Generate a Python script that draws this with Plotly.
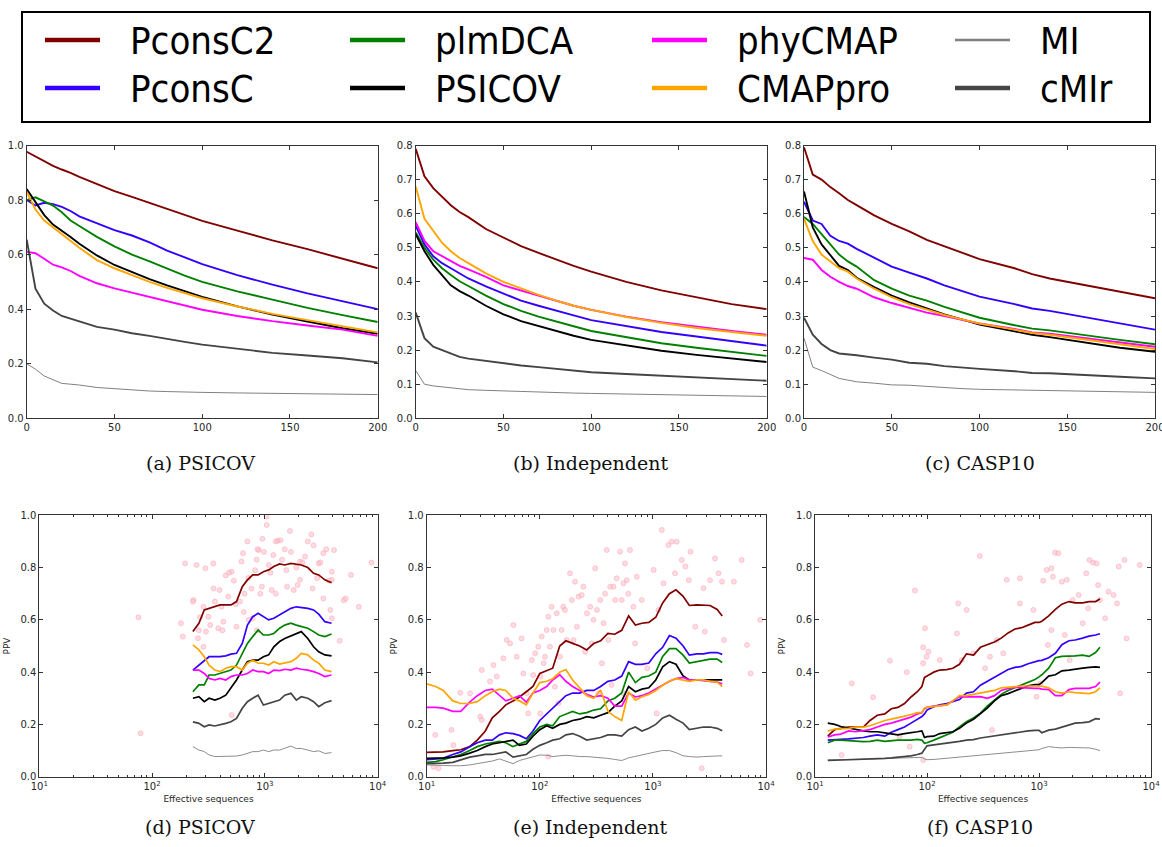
import plotly.graph_objects as go

W, H = 1162, 847

METHODS = ["PconsC2", "PconsC", "plmDCA", "PSICOV", "phyCMAP", "CMAPpro", "MI", "cMIr"]
COLORS = {"PconsC2": "#800000", "PconsC": "#3300ff", "plmDCA": "#008000", "PSICOV": "#000000",
          "phyCMAP": "#ff00ff", "CMAPpro": "#ffa500", "MI": "#808080", "cMIr": "#444444"}
WIDTHS = {"PconsC2": 1.9, "PconsC": 1.9, "plmDCA": 1.9, "PSICOV": 1.9,
          "phyCMAP": 1.9, "CMAPpro": 1.9, "MI": 1.0, "cMIr": 1.9}

# ---------------- top row: PPV vs number of predicted contacts ----------------
top_x = [0, 5, 10, 15, 20, 25, 30, 40, 50, 60, 70, 80, 90, 100, 120, 140, 160, 180, 200]
c_x = [0, 5, 10, 15, 20, 25, 30, 40, 50, 60, 70, 80, 90, 100, 120, 130, 140, 160, 180, 200]

a_PconsC2 = [0.977, 0.96, 0.943, 0.925, 0.912, 0.9, 0.885, 0.858, 0.833, 0.812, 0.79, 0.768, 0.745, 0.724, 0.688, 0.652, 0.62, 0.585, 0.55]
a_PconsC = [0.80, 0.78, 0.79, 0.785, 0.775, 0.76, 0.74, 0.715, 0.69, 0.67, 0.645, 0.615, 0.59, 0.565, 0.525, 0.49, 0.458, 0.428, 0.40]
a_plmDCA = [0.80, 0.81, 0.795, 0.78, 0.755, 0.725, 0.705, 0.665, 0.63, 0.60, 0.575, 0.548, 0.523, 0.5, 0.465, 0.435, 0.405, 0.378, 0.353]
a_PSICOV = [0.84, 0.79, 0.745, 0.71, 0.688, 0.665, 0.64, 0.597, 0.562, 0.535, 0.51, 0.487, 0.466, 0.445, 0.41, 0.38, 0.355, 0.33, 0.31]
a_phyCMAP = [0.61, 0.605, 0.585, 0.563, 0.553, 0.54, 0.522, 0.495, 0.476, 0.46, 0.445, 0.43, 0.412, 0.398, 0.375, 0.356, 0.34, 0.325, 0.302]
a_CMAPpro = [0.83, 0.765, 0.725, 0.70, 0.675, 0.647, 0.625, 0.58, 0.55, 0.525, 0.5, 0.478, 0.458, 0.44, 0.41, 0.383, 0.36, 0.337, 0.315]
a_MI = [0.20, 0.18, 0.155, 0.14, 0.128, 0.125, 0.122, 0.113, 0.108, 0.104, 0.1, 0.098, 0.096, 0.095, 0.093, 0.092, 0.09, 0.088, 0.087]
a_cMIr = [0.655, 0.475, 0.42, 0.395, 0.375, 0.365, 0.355, 0.335, 0.325, 0.312, 0.302, 0.29, 0.28, 0.27, 0.255, 0.24, 0.23, 0.22, 0.205]

b_PconsC2 = [0.79, 0.71, 0.675, 0.65, 0.625, 0.605, 0.59, 0.555, 0.53, 0.505, 0.485, 0.465, 0.447, 0.43, 0.40, 0.375, 0.355, 0.335, 0.32]
b_PconsC = [0.565, 0.51, 0.475, 0.455, 0.44, 0.425, 0.41, 0.387, 0.365, 0.345, 0.33, 0.315, 0.302, 0.288, 0.27, 0.253, 0.24, 0.226, 0.213]
b_plmDCA = [0.545, 0.5, 0.465, 0.44, 0.42, 0.402, 0.388, 0.36, 0.335, 0.315, 0.298, 0.283, 0.27, 0.256, 0.237, 0.22, 0.207, 0.195, 0.183]
b_PSICOV = [0.54, 0.49, 0.45, 0.42, 0.39, 0.373, 0.36, 0.33, 0.305, 0.285, 0.27, 0.255, 0.242, 0.23, 0.213, 0.198, 0.186, 0.175, 0.165]
b_phyCMAP = [0.575, 0.52, 0.49, 0.475, 0.46, 0.447, 0.437, 0.415, 0.39, 0.375, 0.358, 0.343, 0.33, 0.318, 0.298, 0.282, 0.268, 0.256, 0.245]
b_CMAPpro = [0.68, 0.585, 0.55, 0.515, 0.49, 0.47, 0.455, 0.425, 0.40, 0.38, 0.362, 0.345, 0.33, 0.318, 0.297, 0.28, 0.265, 0.253, 0.242]
b_MI = [0.14, 0.1, 0.095, 0.092, 0.088, 0.085, 0.084, 0.082, 0.08, 0.078, 0.077, 0.075, 0.074, 0.073, 0.071, 0.069, 0.068, 0.066, 0.064]
b_cMIr = [0.31, 0.235, 0.21, 0.2, 0.188, 0.18, 0.175, 0.168, 0.162, 0.155, 0.15, 0.145, 0.14, 0.135, 0.13, 0.125, 0.12, 0.115, 0.11]

c_PconsC2 = [0.795, 0.715, 0.70, 0.678, 0.66, 0.64, 0.625, 0.595, 0.57, 0.548, 0.523, 0.505, 0.485, 0.467, 0.44, 0.423, 0.41, 0.39, 0.37, 0.352]
c_PconsC = [0.635, 0.58, 0.57, 0.535, 0.52, 0.512, 0.497, 0.47, 0.445, 0.427, 0.41, 0.39, 0.373, 0.357, 0.335, 0.322, 0.315, 0.297, 0.278, 0.26]
c_plmDCA = [0.59, 0.57, 0.54, 0.51, 0.48, 0.46, 0.445, 0.405, 0.38, 0.36, 0.345, 0.327, 0.31, 0.295, 0.273, 0.263, 0.258, 0.243, 0.23, 0.217]
c_PSICOV = [0.665, 0.56, 0.51, 0.48, 0.447, 0.435, 0.412, 0.385, 0.36, 0.34, 0.322, 0.305, 0.29, 0.275, 0.255, 0.245, 0.238, 0.222, 0.207, 0.195]
c_phyCMAP = [0.47, 0.465, 0.435, 0.415, 0.40, 0.388, 0.38, 0.355, 0.338, 0.325, 0.31, 0.30, 0.288, 0.278, 0.262, 0.252, 0.248, 0.235, 0.222, 0.21]
c_CMAPpro = [0.585, 0.52, 0.48, 0.46, 0.44, 0.43, 0.41, 0.38, 0.355, 0.335, 0.318, 0.303, 0.29, 0.278, 0.26, 0.25, 0.245, 0.23, 0.217, 0.203]
c_MI = [0.235, 0.15, 0.14, 0.128, 0.117, 0.112, 0.107, 0.103, 0.098, 0.097, 0.093, 0.09, 0.087, 0.085, 0.083, 0.082, 0.082, 0.08, 0.078, 0.076]
c_cMIr = [0.295, 0.245, 0.218, 0.2, 0.19, 0.188, 0.185, 0.178, 0.172, 0.163, 0.16, 0.153, 0.148, 0.145, 0.138, 0.133, 0.132, 0.128, 0.122, 0.117]

# ---------------- bottom row: PPV vs effective sequences ----------------
d_x = [230, 260, 290, 320, 360, 400, 450, 500, 560, 630, 700, 780, 870, 970, 1080, 1200, 1350, 1500, 1700, 1900, 2100, 2400, 2700, 3000, 3400, 3900]
d_PconsC2 = [0.555, 0.587, 0.638, 0.644, 0.65, 0.657, 0.657, 0.657, 0.67, 0.727, 0.753, 0.772, 0.772, 0.784, 0.791, 0.804, 0.814, 0.81, 0.816, 0.814, 0.81, 0.80, 0.778, 0.772, 0.753, 0.742]
d_PconsC = [0.408, 0.427, 0.446, 0.459, 0.459, 0.459, 0.462, 0.469, 0.472, 0.51, 0.58, 0.612, 0.625, 0.612, 0.60, 0.606, 0.619, 0.631, 0.644, 0.65, 0.648, 0.644, 0.638, 0.622, 0.593, 0.587]
d_plmDCA = [0.325, 0.351, 0.351, 0.389, 0.389, 0.395, 0.402, 0.408, 0.427, 0.472, 0.51, 0.536, 0.561, 0.542, 0.542, 0.548, 0.568, 0.58, 0.587, 0.58, 0.574, 0.568, 0.555, 0.542, 0.536, 0.546]
d_PSICOV = [0.30, 0.306, 0.287, 0.30, 0.293, 0.30, 0.312, 0.338, 0.37, 0.408, 0.44, 0.446, 0.446, 0.459, 0.466, 0.497, 0.517, 0.529, 0.538, 0.548, 0.555, 0.529, 0.497, 0.478, 0.466, 0.462]
d_phyCMAP = [0.408, 0.408, 0.395, 0.376, 0.37, 0.376, 0.37, 0.383, 0.389, 0.389, 0.395, 0.408, 0.402, 0.402, 0.395, 0.408, 0.406, 0.411, 0.408, 0.415, 0.411, 0.408, 0.402, 0.395, 0.383, 0.389]
d_CMAPpro = [0.504, 0.485, 0.459, 0.427, 0.408, 0.402, 0.415, 0.421, 0.421, 0.408, 0.434, 0.446, 0.434, 0.434, 0.427, 0.44, 0.431, 0.434, 0.44, 0.453, 0.472, 0.466, 0.446, 0.434, 0.408, 0.402]
d_MI = [0.115, 0.102, 0.096, 0.083, 0.077, 0.077, 0.077, 0.077, 0.079, 0.083, 0.089, 0.096, 0.096, 0.102, 0.096, 0.102, 0.102, 0.108, 0.117, 0.108, 0.108, 0.102, 0.096, 0.099, 0.089, 0.092]
d_cMIr = [0.21, 0.204, 0.191, 0.198, 0.194, 0.198, 0.204, 0.21, 0.223, 0.262, 0.287, 0.30, 0.312, 0.274, 0.281, 0.287, 0.293, 0.312, 0.319, 0.293, 0.306, 0.30, 0.287, 0.268, 0.283, 0.291]

e_x = [10, 12, 14, 17, 20, 24, 28, 33, 38, 44, 50, 58, 66, 76, 87, 100, 115, 130, 150, 170, 195, 225, 260, 300, 345, 400, 460, 530, 610, 700, 800, 920, 1060, 1220, 1400, 1600, 1850, 2100, 2450, 2800, 3200, 3700, 4100]
e_PconsC2 = [0.093, 0.095, 0.095, 0.10, 0.103, 0.115, 0.14, 0.175, 0.225, 0.25, 0.275, 0.29, 0.305, 0.325, 0.345, 0.395, 0.405, 0.415, 0.50, 0.52, 0.51, 0.50, 0.485, 0.51, 0.52, 0.548, 0.545, 0.56, 0.615, 0.58, 0.587, 0.59, 0.61, 0.665, 0.70, 0.715, 0.69, 0.655, 0.657, 0.655, 0.655, 0.64, 0.615]
e_PconsC = [0.065, 0.068, 0.07, 0.085, 0.095, 0.115, 0.13, 0.14, 0.14, 0.16, 0.168, 0.165, 0.158, 0.145, 0.175, 0.215, 0.24, 0.265, 0.29, 0.31, 0.32, 0.32, 0.33, 0.33, 0.345, 0.365, 0.37, 0.385, 0.44, 0.43, 0.43, 0.435, 0.47, 0.495, 0.54, 0.53, 0.50, 0.465, 0.47, 0.47, 0.475, 0.475, 0.468]
e_plmDCA = [0.055, 0.058, 0.065, 0.075, 0.085, 0.1, 0.115, 0.125, 0.13, 0.135, 0.13, 0.115, 0.125, 0.135, 0.165, 0.19, 0.2, 0.195, 0.23, 0.24, 0.25, 0.24, 0.245, 0.255, 0.26, 0.29, 0.3, 0.32, 0.40, 0.36, 0.38, 0.385, 0.40, 0.46, 0.49, 0.49, 0.465, 0.435, 0.44, 0.445, 0.45, 0.45, 0.437]
e_PSICOV = [0.07, 0.07, 0.072, 0.075, 0.08, 0.09, 0.10, 0.115, 0.125, 0.13, 0.135, 0.14, 0.12, 0.125, 0.155, 0.18, 0.195, 0.185, 0.20, 0.205, 0.215, 0.22, 0.23, 0.225, 0.235, 0.245, 0.27, 0.29, 0.345, 0.325, 0.335, 0.34, 0.37, 0.42, 0.44, 0.43, 0.385, 0.37, 0.37, 0.37, 0.372, 0.372, 0.37]
e_phyCMAP = [0.265, 0.265, 0.262, 0.25, 0.25, 0.285, 0.31, 0.33, 0.335, 0.31, 0.29, 0.30, 0.31, 0.285, 0.32, 0.33, 0.345, 0.37, 0.39, 0.365, 0.345, 0.33, 0.315, 0.305, 0.31, 0.30, 0.27, 0.27, 0.32, 0.305, 0.31, 0.32, 0.335, 0.35, 0.365, 0.375, 0.38, 0.37, 0.37, 0.367, 0.365, 0.362, 0.355]
e_CMAPpro = [0.355, 0.345, 0.33, 0.29, 0.28, 0.28, 0.287, 0.31, 0.325, 0.335, 0.33, 0.30, 0.29, 0.275, 0.32, 0.36, 0.365, 0.375, 0.40, 0.41, 0.37, 0.34, 0.31, 0.30, 0.332, 0.25, 0.23, 0.215, 0.325, 0.293, 0.306, 0.315, 0.33, 0.35, 0.365, 0.375, 0.37, 0.365, 0.37, 0.37, 0.365, 0.362, 0.345]
e_MI = [0.045, 0.045, 0.043, 0.042, 0.042, 0.045, 0.05, 0.057, 0.06, 0.068, 0.06, 0.05, 0.062, 0.07, 0.078, 0.083, 0.082, 0.077, 0.08, 0.082, 0.08, 0.077, 0.077, 0.075, 0.072, 0.07, 0.066, 0.062, 0.072, 0.078, 0.085, 0.09, 0.095, 0.1, 0.1, 0.092, 0.08, 0.077, 0.075, 0.077, 0.079, 0.08, 0.08]
e_cMIr = [0.05, 0.05, 0.052, 0.055, 0.065, 0.075, 0.08, 0.085, 0.085, 0.09, 0.095, 0.075, 0.08, 0.085, 0.105, 0.12, 0.13, 0.14, 0.145, 0.16, 0.165, 0.155, 0.14, 0.145, 0.15, 0.16, 0.16, 0.155, 0.18, 0.19, 0.175, 0.185, 0.2, 0.225, 0.235, 0.22, 0.205, 0.18, 0.185, 0.19, 0.19, 0.185, 0.176]

f_x = [13, 15, 17, 20, 23, 27, 31, 36, 42, 48, 55, 63, 72, 82, 90, 95, 100, 115, 130, 150, 170, 195, 225, 260, 300, 345, 400, 460, 530, 610, 700, 800, 920, 1000, 1060, 1220, 1400, 1600, 1850, 2100, 2450, 2800, 3200, 3500]
f_PconsC2 = [0.155, 0.18, 0.185, 0.19, 0.19, 0.19, 0.215, 0.235, 0.24, 0.26, 0.265, 0.28, 0.305, 0.325, 0.345, 0.38, 0.385, 0.40, 0.408, 0.41, 0.415, 0.43, 0.47, 0.465, 0.495, 0.504, 0.515, 0.53, 0.55, 0.565, 0.57, 0.58, 0.59, 0.59, 0.595, 0.615, 0.64, 0.66, 0.67, 0.665, 0.665, 0.67, 0.67, 0.68]
f_PconsC = [0.14, 0.143, 0.143, 0.145, 0.147, 0.15, 0.155, 0.16, 0.155, 0.17, 0.18, 0.19, 0.205, 0.22, 0.23, 0.24, 0.255, 0.268, 0.275, 0.28, 0.287, 0.295, 0.32, 0.325, 0.35, 0.365, 0.38, 0.395, 0.41, 0.418, 0.422, 0.432, 0.44, 0.444, 0.445, 0.455, 0.472, 0.505, 0.52, 0.523, 0.53, 0.538, 0.542, 0.547]
f_plmDCA = [0.13, 0.14, 0.14, 0.137, 0.135, 0.134, 0.135, 0.14, 0.135, 0.138, 0.14, 0.14, 0.14, 0.143, 0.14, 0.128, 0.13, 0.14, 0.15, 0.16, 0.17, 0.19, 0.21, 0.225, 0.243, 0.27, 0.295, 0.315, 0.33, 0.34, 0.352, 0.362, 0.372, 0.382, 0.39, 0.415, 0.455, 0.46, 0.46, 0.462, 0.465, 0.46, 0.475, 0.495]
f_PSICOV = [0.205, 0.2, 0.192, 0.185, 0.18, 0.175, 0.172, 0.172, 0.168, 0.165, 0.16, 0.165, 0.17, 0.172, 0.175, 0.15, 0.153, 0.155, 0.165, 0.168, 0.172, 0.185, 0.205, 0.22, 0.24, 0.262, 0.29, 0.31, 0.318, 0.328, 0.338, 0.348, 0.352, 0.352, 0.36, 0.385, 0.39, 0.405, 0.408, 0.41, 0.415, 0.418, 0.42, 0.418]
f_phyCMAP = [0.152, 0.16, 0.163, 0.175, 0.172, 0.175, 0.18, 0.19, 0.2, 0.205, 0.212, 0.22, 0.228, 0.24, 0.245, 0.26, 0.265, 0.27, 0.272, 0.275, 0.29, 0.306, 0.305, 0.305, 0.306, 0.30, 0.31, 0.33, 0.338, 0.342, 0.34, 0.338, 0.338, 0.338, 0.335, 0.333, 0.31, 0.31, 0.333, 0.338, 0.338, 0.338, 0.345, 0.362]
f_CMAPpro = [0.175, 0.182, 0.183, 0.185, 0.19, 0.19, 0.195, 0.205, 0.215, 0.22, 0.225, 0.232, 0.238, 0.245, 0.245, 0.262, 0.265, 0.268, 0.27, 0.275, 0.29, 0.31, 0.31, 0.315, 0.321, 0.325, 0.33, 0.34, 0.343, 0.345, 0.347, 0.347, 0.347, 0.347, 0.346, 0.34, 0.325, 0.32, 0.325, 0.322, 0.32, 0.318, 0.325, 0.34]
f_MI = [0.065, 0.066, 0.065, 0.066, 0.066, 0.067, 0.068, 0.068, 0.07, 0.07, 0.072, 0.072, 0.073, 0.074, 0.074, 0.068, 0.065, 0.066, 0.068, 0.07, 0.072, 0.075, 0.078, 0.08, 0.082, 0.084, 0.086, 0.088, 0.09, 0.092, 0.095, 0.098, 0.1, 0.103, 0.108, 0.115, 0.112, 0.11, 0.112, 0.112, 0.112, 0.11, 0.105, 0.1]
f_cMIr = [0.062, 0.063, 0.062, 0.063, 0.064, 0.065, 0.066, 0.068, 0.07, 0.072, 0.074, 0.076, 0.08, 0.085, 0.09, 0.105, 0.118, 0.122, 0.125, 0.128, 0.13, 0.135, 0.14, 0.142, 0.148, 0.152, 0.158, 0.162, 0.166, 0.17, 0.174, 0.175, 0.177, 0.177, 0.168, 0.178, 0.182, 0.19, 0.2, 0.205, 0.207, 0.21, 0.222, 0.22]

# per-target PconsC2 scores (pink dots)
d_pts_x = [75.6, 79, 196, 180, 187, 1037, 1037, 1668, 2580, 1380, 1300, 880, 620, 349, 248, 297, 507, 1083, 2047, 2270,
           3000, 3296, 4100, 3920, 3920, 8800, 5800, 5200, 6800, 5000, 3800, 4600, 3920, 3300, 2047, 1950, 1800, 1570, 940, 1150,
           910, 660, 601, 473, 412, 397, 360, 233, 285, 316, 327, 428, 386, 560, 780, 507, 1188, 845, 712, 285,
           260, 300, 350, 450, 480, 530, 550, 640, 700, 760, 820, 860, 950, 980, 1120, 1250, 1420, 1500, 1550, 1700,
           1900, 2150, 2400, 2700, 2900, 3100, 3500, 3700, 2650, 1250, 650, 720, 850, 420, 255, 265, 230]
d_pts_y = [0.61, 0.166, 0.816, 0.587, 0.536, 0.995, 0.963, 0.94, 0.927, 0.905, 0.903, 0.867, 0.823, 0.816, 0.81, 0.797, 0.784, 0.81, 0.823, 0.842,
           0.816, 0.855, 0.867, 0.784, 0.753, 0.819, 0.772, 0.682, 0.65, 0.675, 0.638, 0.52, 0.606, 0.682, 0.753, 0.733, 0.714, 0.727, 0.727, 0.714,
           0.70, 0.70, 0.67, 0.689, 0.65, 0.714, 0.67, 0.676, 0.65, 0.612, 0.58, 0.593, 0.568, 0.574, 0.606, 0.236, 0.848, 0.83, 0.76, 0.497,
           0.56, 0.555, 0.72, 0.77, 0.78, 0.75, 0.66, 0.855, 0.9, 0.72, 0.79, 0.87, 0.91, 0.86, 0.78, 0.9, 0.83, 0.87, 0.79, 0.86,
           0.8, 0.82, 0.9, 0.885, 0.76, 0.82, 0.87, 0.75, 0.72, 0.7, 0.63, 0.6, 0.56, 0.56, 0.53, 0.61, 0.67]

e_pts_x = [11.9, 11.5, 12.7, 17.2, 16.6, 19.8, 24.2, 29.7, 30.7, 30.7, 36.3, 38.9, 41.6, 47.6, 51, 54.6, 58.5, 62.5, 69, 71.6,
           76.7, 79, 85, 87.5, 91, 97, 101, 104, 108, 111, 115, 119, 123, 127, 132, 136, 141, 146, 151, 156,
           161, 167, 173, 185, 192, 199, 205, 213, 220, 235, 243, 252, 261, 279, 288, 299, 309, 320, 330, 342,
           354, 366, 378, 391, 404, 419, 432, 448, 463, 478, 513, 530, 549, 567, 587, 606, 627, 672, 696, 720,
           797, 1015, 1120, 1199, 1240, 1370, 1463, 1620, 1570, 1800, 1940, 2150, 2080, 2370, 2800, 2880, 3200, 3540, 3800, 4080,
           4250, 5200, 6100, 6800, 7300, 8900, 1080, 890, 2700, 119, 549, 101]
e_pts_y = [0.16, 0.038, 0.032, 0.121, 0.179, 0.321, 0.319, 0.23, 0.217, 0.408, 0.364, 0.427, 0.383, 0.453, 0.523, 0.51, 0.58, 0.459, 0.529, 0.395,
           0.319, 0.242, 0.446, 0.389, 0.472, 0.497, 0.383, 0.536, 0.434, 0.459, 0.561, 0.612, 0.497, 0.65, 0.561, 0.344, 0.625, 0.281, 0.459, 0.561,
           0.65, 0.638, 0.523, 0.778, 0.676, 0.523, 0.746, 0.574, 0.689, 0.695, 0.727, 0.478, 0.625, 0.65, 0.51, 0.60, 0.797, 0.638, 0.319, 0.676,
           0.434, 0.587, 0.70, 0.867, 0.523, 0.727, 0.351, 0.727, 0.676, 0.759, 0.861, 0.676, 0.74, 0.816, 0.752, 0.70, 0.867, 0.65, 0.51, 0.765,
           0.676, 0.791, 0.638, 0.944, 0.74, 0.886, 0.899, 0.899, 0.778, 0.829, 0.804, 0.861, 0.752, 0.574, 0.721, 0.555, 0.752, 0.835, 0.778, 0.746,
           0.523, 0.746, 0.829, 0.504, 0.395, 0.60, 0.242, 0.415, 0.032, 0.077, 0.319, 0.242]

f_pts_x = [17.3, 21.3, 33, 46.7, 66, 78, 70, 57, 92.5, 96, 99, 103, 92.5, 92.5, 130, 190, 185, 226, 204, 260,
           296, 330, 365, 380, 420, 480, 515, 675, 675, 950, 1090, 1170, 1290, 1330, 1390, 1490, 1600, 1770, 1880, 1700,
           2000, 2260, 2460, 2640, 2750, 2830, 3040, 3270, 3370, 3500, 3890, 4170, 4640, 4980, 5150, 5300, 5800, 6050, 7950, 1030,
           1290, 1200, 890]
f_pts_y = [0.083, 0.357, 0.304, 0.444, 0.40, 0.712, 0.115, 0.153, 0.495, 0.568, 0.459, 0.478, 0.434, 0.064, 0.446, 0.663, 0.548, 0.638, 0.446, 0.472,
           0.844, 0.415, 0.459, 0.179, 0.523, 0.472, 0.753, 0.759, 0.663, 0.306, 0.75, 0.791, 0.797, 0.765, 0.857, 0.855, 0.746, 0.753, 0.446, 0.542,
           0.676, 0.695, 0.587, 0.778, 0.644, 0.829, 0.819, 0.816, 0.733, 0.676, 0.606, 0.708, 0.695, 0.663, 0.804, 0.319, 0.829, 0.529, 0.81, 0.357,
           0.561, 0.504, 0.638]

CAPTIONS = ["(a) PSICOV", "(b) Independent", "(c) CASP10", "(d) PSICOV", "(e) Independent", "(f) CASP10"]
TOP_XTICKS = [0, 50, 100, 150, 200]
LOG_TICKS = [10, 100, 1000, 10000]
LOG_TICKTEXT = ["10<sup>1</sup>", "10<sup>2</sup>", "10<sup>3</sup>", "10<sup>4</sup>"]
LEGEND_ROWS = [["PconsC2", "plmDCA", "phyCMAP", "MI"], ["PconsC", "PSICOV", "CMAPpro", "cMIr"]]

top_series = [
    ("", top_x, {"PconsC2": a_PconsC2, "PconsC": a_PconsC, "plmDCA": a_plmDCA, "PSICOV": a_PSICOV,
                 "phyCMAP": a_phyCMAP, "CMAPpro": a_CMAPpro, "MI": a_MI, "cMIr": a_cMIr}),
    ("2", top_x, {"PconsC2": b_PconsC2, "PconsC": b_PconsC, "plmDCA": b_plmDCA, "PSICOV": b_PSICOV,
                  "phyCMAP": b_phyCMAP, "CMAPpro": b_CMAPpro, "MI": b_MI, "cMIr": b_cMIr}),
    ("3", c_x, {"PconsC2": c_PconsC2, "PconsC": c_PconsC, "plmDCA": c_plmDCA, "PSICOV": c_PSICOV,
                "phyCMAP": c_phyCMAP, "CMAPpro": c_CMAPpro, "MI": c_MI, "cMIr": c_cMIr}),
]
bottom_series = [
    ("4", d_x, {"PconsC2": d_PconsC2, "PconsC": d_PconsC, "plmDCA": d_plmDCA, "PSICOV": d_PSICOV,
                "phyCMAP": d_phyCMAP, "CMAPpro": d_CMAPpro, "MI": d_MI, "cMIr": d_cMIr}, d_pts_x, d_pts_y),
    ("5", e_x, {"PconsC2": e_PconsC2, "PconsC": e_PconsC, "plmDCA": e_plmDCA, "PSICOV": e_PSICOV,
                "phyCMAP": e_phyCMAP, "CMAPpro": e_CMAPpro, "MI": e_MI, "cMIr": e_cMIr}, e_pts_x, e_pts_y),
    ("6", f_x, {"PconsC2": f_PconsC2, "PconsC": f_PconsC, "plmDCA": f_plmDCA, "PSICOV": f_PSICOV,
                "phyCMAP": f_phyCMAP, "CMAPpro": f_CMAPpro, "MI": f_MI, "cMIr": f_cMIr}, f_pts_x, f_pts_y),
]

fig = go.Figure()

for suf, xs, series in top_series:
    for m in METHODS:
        fig.add_trace(go.Scatter(x=xs, y=series[m], mode="lines", name=m, showlegend=False,
                                 line=dict(color=COLORS[m], width=WIDTHS[m]),
                                 xaxis="x" + suf, yaxis="y" + suf))

for suf, xs, series, px_, py_ in bottom_series:
    fig.add_trace(go.Scatter(x=px_, y=py_, mode="markers", name="PconsC2 per target", showlegend=False,
                             marker=dict(size=5, color="rgba(255,192,203,0.55)",
                                         line=dict(color="rgba(250,150,170,0.55)", width=0.8)),
                             xaxis="x" + suf, yaxis="y" + suf))
    for m in METHODS:
        fig.add_trace(go.Scatter(x=xs, y=series[m], mode="lines", name=m, showlegend=False,
                                 line=dict(color=COLORS[m], width=WIDTHS[m] * 0.9),
                                 xaxis="x" + suf, yaxis="y" + suf))

# pixel geometry of the six axes boxes (left, right, top, bottom)
BOXES = [(26.7, 377.7, 145.5, 418.3), (415.7, 766.7, 145.5, 418.3), (804.0, 1155.0, 145.5, 418.3),
         (39.3, 377.7, 515.3, 776.7), (426.7, 766.0, 515.3, 776.7), (815.0, 1151.0, 515.3, 776.7)]

tick_font = dict(family="DejaVu Sans, Verdana, sans-serif", size=10, color="#262626")
frame = dict(showline=True, linecolor="#333333", linewidth=1, mirror="ticks", ticks="inside",
             ticklen=4, tickcolor="#333333", showgrid=False, zeroline=False, tickfont=tick_font,
             automargin=False)

layout = dict(width=W, height=H, margin=dict(l=0, r=0, t=0, b=0, pad=0, autoexpand=False),
              plot_bgcolor="white", paper_bgcolor="white", showlegend=False)

minor_vals = [m * 10 ** k for k in (1, 2, 3) for m in range(2, 10)]

for i, (l, r, t, b) in enumerate(BOXES):
    n = "" if i == 0 else str(i + 1)
    xd = [l / W, r / W]
    yd = [1 - b / H, 1 - t / H]
    if i < 3:
        xa = dict(frame, domain=xd, anchor="y" + n, range=[0, 200], tickvals=TOP_XTICKS,
                  ticklabeloverflow="allow")
        if i == 0:
            ya = dict(frame, domain=yd, anchor="x" + n, range=[0, 1.0], dtick=0.2, tickformat=".1f")
        else:
            ya = dict(frame, domain=yd, anchor="x" + n, range=[0, 0.8], dtick=0.1, tickformat=".1f")
    else:
        xa = dict(frame, domain=xd, anchor="y" + n, type="log", range=[1, 4],
                  tickvals=LOG_TICKS, ticktext=LOG_TICKTEXT, ticklabeloverflow="allow",
                  minor=dict(tickvals=minor_vals, ticks="inside", ticklen=2, tickcolor="#333333"),
                  title=dict(text="Effective sequences", standoff=4,
                             font=dict(family="DejaVu Sans, Verdana, sans-serif", size=9, color="#262626")))
        ya = dict(frame, domain=yd, anchor="x" + n, range=[0, 1.0], dtick=0.2, tickformat=".1f",
                  title=dict(text="PPV", standoff=8,
                             font=dict(family="DejaVu Sans, Verdana, sans-serif", size=9, color="#262626")))
    layout["xaxis" + n] = xa
    layout["yaxis" + n] = ya

fig.update_layout(**layout)

# panel captions
cap_y = [463, 463, 463, 827, 827, 827]
cap_x = [200, 590, 980, 200, 590, 980]
for txt, cx, cy in zip(CAPTIONS, cap_x, cap_y):
    fig.add_annotation(text=txt, x=cx / W, y=1 - cy / H, xref="paper", yref="paper",
                       showarrow=False, xanchor="center", yanchor="middle",
                       font=dict(family="DejaVu Serif, Liberation Serif, serif", size=19, color="#111111"))

# legend box
fig.add_shape(type="rect", xref="paper", yref="paper", x0=22 / W, x1=1150 / W,
              y0=1 - 122 / H, y1=1 - 12 / H, line=dict(color="black", width=2), fillcolor="white")
col_line_x = [45, 350, 652, 955]
col_text_x = [128, 433, 735, 1038]
row_y = [40, 88]
for ri, row in enumerate(LEGEND_ROWS):
    for ci, m in enumerate(row):
        lw = 2.5 if m == "MI" else 4.5
        fig.add_shape(type="line", xref="paper", yref="paper",
                      x0=col_line_x[ci] / W, x1=(col_line_x[ci] + 55) / W,
                      y0=1 - row_y[ri] / H, y1=1 - row_y[ri] / H,
                      line=dict(color=COLORS[m], width=lw))
        fig.add_annotation(text=m, x=col_text_x[ci] / W, y=1 - (row_y[ri] + 1) / H,
                           xref="paper", yref="paper", showarrow=False,
                           xanchor="left", yanchor="middle",
                           font=dict(family="Liberation Sans Narrow, DejaVu Sans Condensed, Liberation Sans, Arial",
                                     size=38, color="black"))

# page body margin removed so the figure sits at the window's top-left corner; no mode bar
fig.write_html("out.html", config={"displayModeBar": False},
               post_script="document.body.style.margin='0px';")
